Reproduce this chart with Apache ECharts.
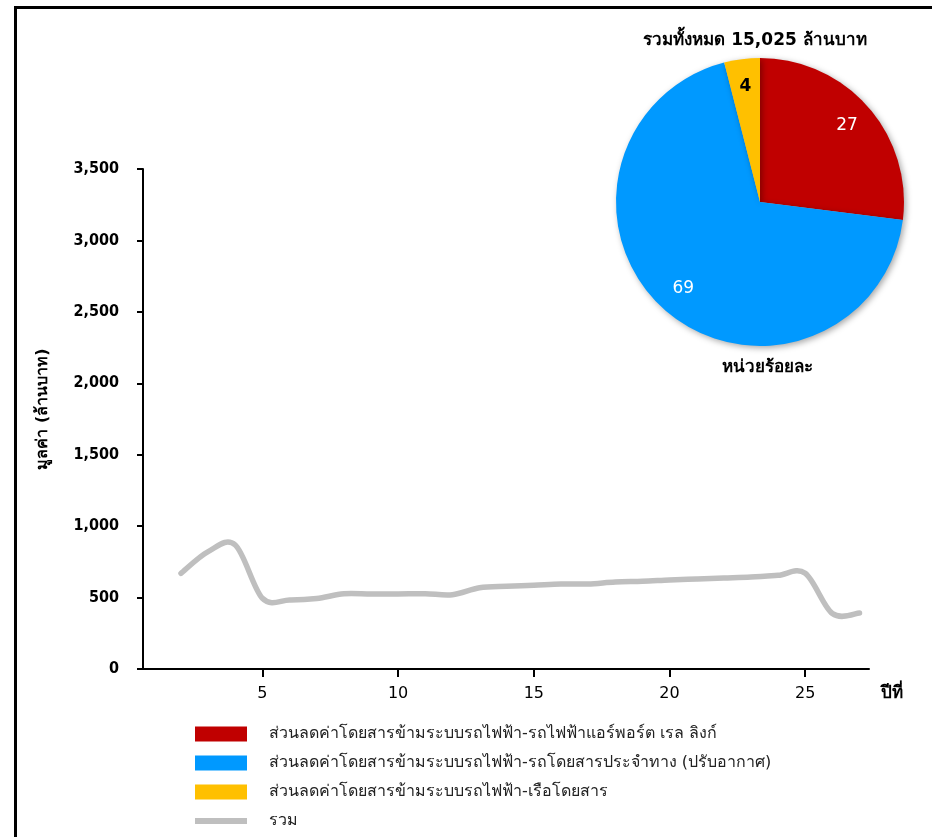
<!DOCTYPE html>
<html>
<head>
<meta charset="utf-8">
<script src="https://cdn.jsdelivr.net/npm/echarts@6/dist/echarts.min.js"></script>
<style>
  html, body { margin: 0; padding: 0; background: #fff; }
  #chart { width: 932px; height: 837px; }
</style>
</head>
<body>
<div id="chart"></div>
<script>
// Yearly total value (million baht), years 2–27
const years = [2, 3, 4, 5, 6, 7, 8, 9, 10, 11, 12, 13, 14, 15, 16, 17, 18, 19, 20, 21, 22, 23, 24, 25, 26, 27];
const totalValues = [670, 822, 868, 495, 483, 493, 527, 525, 525, 527, 520, 569, 579, 586, 595, 595, 609, 614, 623, 630, 637, 644, 656, 670, 388, 392];

// Share of the 15,025 million baht total (percent)
const shareNames = [
  'ส่วนลดค่าโดยสารข้ามระบบรถไฟฟ้า-รถไฟฟ้าแอร์พอร์ต เรล ลิงก์',
  'ส่วนลดค่าโดยสารข้ามระบบรถไฟฟ้า-รถโดยสารประจำทาง (ปรับอากาศ)',
  'ส่วนลดค่าโดยสารข้ามระบบรถไฟฟ้า-เรือโดยสาร'
];
const shareValues = [27, 69, 4];
const shareColors = ['#C00000', '#0099FF', '#FFC000'];
const totalName = 'รวม';
const totalColor = '#BFBFBF';

// Axis ticks
const xTickValues = [5, 10, 15, 20, 25];
const yMax = 3500;
const yStep = 500;

const FONT = 'Tahoma, "DejaVu Sans", "Noto Sans", sans-serif';
const NUM_FONT = '"DejaVu Sans Condensed", Tahoma, "DejaVu Sans", sans-serif';

const chart = echarts.init(document.getElementById('chart'));

const linePoints = years.map((y, i) => [y, totalValues[i]]);

// Cardinal (Catmull-Rom) spline through the points, in pixel space
function splinePath(api) {
  const p = linePoints.map(d => api.coord(d));
  const n = p.length;
  let d = 'M' + p[0][0] + ',' + p[0][1];
  for (let i = 0; i < n - 1; i++) {
    const p0 = p[Math.max(i - 1, 0)];
    const p1 = p[i];
    const p2 = p[i + 1];
    const p3 = p[Math.min(i + 2, n - 1)];
    const c1x = p1[0] + (p2[0] - p0[0]) / 6;
    const c1y = p1[1] + (p2[1] - p0[1]) / 6;
    const c2x = p2[0] - (p3[0] - p1[0]) / 6;
    const c2y = p2[1] - (p3[1] - p1[1]) / 6;
    d += 'C' + c1x + ',' + c1y + ',' + c2x + ',' + c2y + ',' + p2[0] + ',' + p2[1];
  }
  return d;
}

const pieData = shareNames.map((n, i) => ({
  name: n, value: shareValues[i], itemStyle: { color: shareColors[i] }
}));

const labelStyles = [
  { color: '#fff', fontWeight: 'normal' },
  { color: '#fff', fontWeight: 'normal' },
  { color: '#000', fontWeight: 'bold' }
];
const pieLabelData = shareNames.map((n, i) => ({
  name: n, value: shareValues[i],
  label: Object.assign({ show: true, position: 'inside', formatter: '{c}', fontSize: 17, fontFamily: FONT }, labelStyles[i])
}));

const legendData = shareNames.map((n, i) => ({
  name: n, icon: 'rect', itemStyle: { color: shareColors[i] }
})).concat([{
  name: totalName,
  icon: 'path://M0,0L0,0M0,4.5L52,4.5L52,10.5L0,10.5ZM52,15L52,15',
  itemStyle: { color: totalColor }
}]);

chart.setOption({
  animation: false,
  backgroundColor: '#fff',
  textStyle: { fontFamily: FONT },
  graphic: [{
    type: 'rect',
    silent: true,
    shape: { x: 15.5, y: 7.5, width: 1000, height: 1000 },
    style: { fill: 'none', stroke: '#000', lineWidth: 3 }
  }],
  title: [{
    text: 'รวมทั้งหมด 15,025 ล้านบาท',
    left: 750, top: 27, textAlign: 'center',
    textStyle: { fontSize: 17, fontWeight: 'bold', color: '#000', fontFamily: FONT }
  }, {
    text: 'หน่วยร้อยละ',
    left: 762, top: 354, textAlign: 'center',
    textStyle: { fontSize: 17, fontWeight: 'bold', color: '#000', fontFamily: FONT }
  }],
  legend: {
    orient: 'vertical',
    left: 190, top: 721,
    itemWidth: 52, itemHeight: 15, itemGap: 13,
    selectedMode: false,
    textStyle: { fontSize: 16, color: '#222', fontFamily: FONT, padding: [0, 0, 0, 17] },
    data: legendData
  },
  grid: { left: 143, right: 63, top: 169, bottom: 168, containLabel: false },
  xAxis: {
    type: 'value',
    min: 0.6, max: 27.35,
    name: 'ปีที่',
    nameLocation: 'end',
    nameGap: 12,
    nameTextStyle: { fontSize: 17, fontWeight: 'bold', color: '#000', verticalAlign: 'top', padding: [16, 0, 0, 0] },
    axisLine: { lineStyle: { color: '#000', width: 2 } },
    axisTick: { show: true, length: 8, customValues: xTickValues, lineStyle: { color: '#000', width: 2 } },
    axisLabel: { customValues: xTickValues, fontSize: 16, color: '#000', margin: 17 },
    splitLine: { show: false }
  },
  yAxis: {
    type: 'value',
    min: 0, max: yMax, interval: yStep,
    name: 'มูลค่า (ล้านบาท)',
    nameLocation: 'middle',
    nameGap: 92,
    nameRotate: 90,
    nameTextStyle: { fontSize: 16, fontWeight: 'bold', color: '#000', padding: [0, 0, 0, 20] },
    axisLine: { show: true, lineStyle: { color: '#000', width: 2 } },
    axisTick: { show: true, length: 6, lineStyle: { color: '#000', width: 2 } },
    axisLabel: {
      fontSize: 16, fontWeight: 'bold', color: '#000', margin: 24, fontFamily: NUM_FONT,
      formatter: v => v.toLocaleString('en-US')
    },
    splitLine: { show: false }
  },
  series: [{
    name: totalName,
    type: 'custom',
    coordinateSystem: 'cartesian2d',
    data: linePoints,
    encode: { x: 0, y: 1 },
    itemStyle: { color: totalColor },
    silent: true,
    renderItem: (params, api) => {
      if (params.dataIndex !== 0) return null;
      return {
        type: 'path',
        shape: { pathData: splinePath(api) },
        style: { fill: 'none', stroke: totalColor, lineWidth: 5.5, lineCap: 'round', lineJoin: 'round' }
      };
    },
    z: 2
  }, {
    name: 'share',
    type: 'pie',
    center: [760, 202],
    radius: [0, 144],
    startAngle: 90,
    clockwise: true,
    silent: true,
    label: { show: false },
    labelLine: { show: false },
    itemStyle: { shadowBlur: 6, shadowColor: 'rgba(0,0,0,0.35)', shadowOffsetX: 2, shadowOffsetY: 2 },
    data: pieData,
    z: 3
  }, {
    name: 'shareLabels',
    type: 'pie',
    center: [760, 202],
    radius: [84, 142],
    startAngle: 90,
    clockwise: true,
    silent: true,
    itemStyle: { color: 'rgba(0,0,0,0)' },
    labelLine: { show: false },
    data: pieLabelData,
    z: 4
  }]
});
</script>
</body>
</html>
